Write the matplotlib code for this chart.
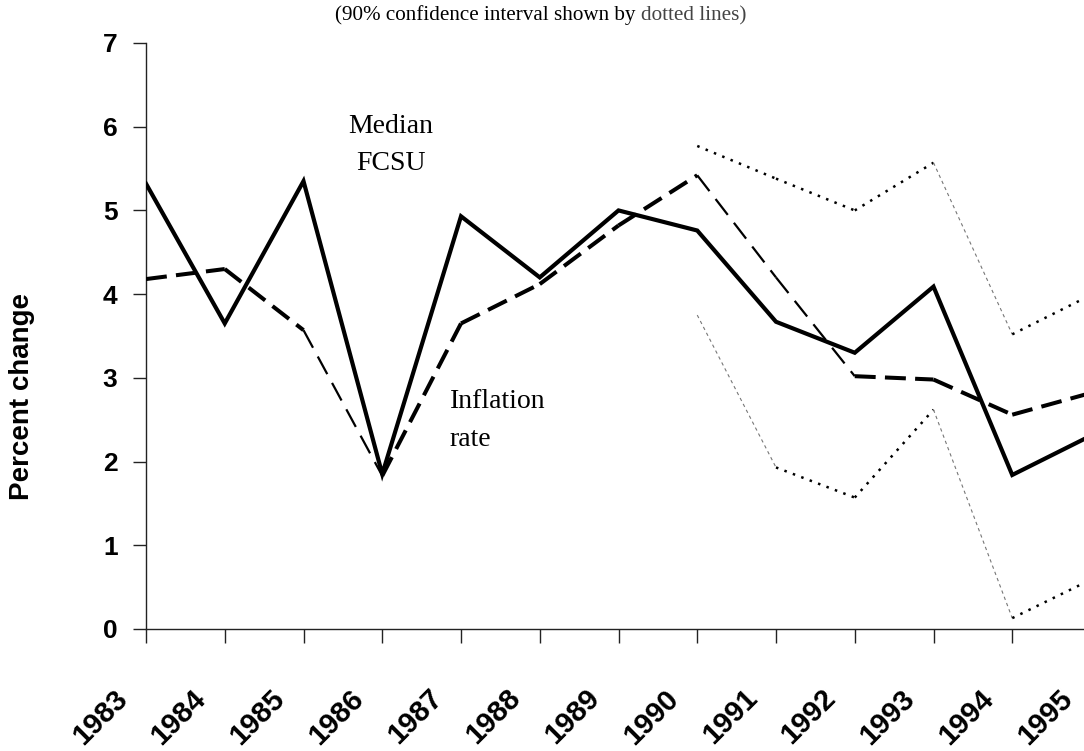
import matplotlib
matplotlib.use('Agg')
import matplotlib.pyplot as plt
import matplotlib.transforms as mtransforms

# annual percent changes, 1983-1995
years = ['1983', '1984', '1985', '1986', '1987', '1988', '1989',
         '1990', '1991', '1992', '1993', '1994', '1995']
median_fcsu = [5.32, 3.65, 5.35, 1.85, 4.93, 4.20, 5.00, 4.76, 3.67, 3.30, 4.09, 1.84, 2.31]
inflation = [4.18, 4.30, 3.57, 1.83, 3.65, 4.12, 4.82, 5.42, 4.20, 3.02, 2.98, 2.56, 2.82]
# 90% confidence band, forecast years only (1990 onward)
band_start = 7
band_upper = [5.77, 5.38, 5.00, 5.57, 3.52, 3.99]
band_lower = [3.75, 1.93, 1.57, 2.62, 0.13, 0.59]

fig = plt.figure(figsize=(10.84, 7.51), dpi=100)
ax = fig.add_axes([146 / 1084, 122 / 751, 945 / 1084, 586 / 751])

x = list(range(len(years)))

# solid line for the median
ax.plot(x, median_fcsu, color='black', lw=3, solid_joinstyle='miter', zorder=4)

# dashed inflation line, thinner on the steep drops
thin_dash = [2, 7, 8]
for i in range(len(x) - 1):
    if i in thin_dash:
        ax.plot(x[i:i + 2], inflation[i:i + 2], color='black', lw=1.6,
                dashes=(9, 4.5), zorder=3)
    else:
        ax.plot(x[i:i + 2], inflation[i:i + 2], color='black', lw=2.9,
                dashes=(5.2, 2.3), zorder=3)

# dotted confidence band; steep pieces come out as faint grey dashes
xb = x[band_start:]
for band, faint in [(band_upper, [3]), (band_lower, [0, 3])]:
    for i in range(len(xb) - 1):
        if i in faint:
            ax.plot(xb[i:i + 2], band[i:i + 2], color='#777777', lw=0.8,
                    dashes=(3, 3), zorder=2)
        else:
            ax.plot(xb[i:i + 2], band[i:i + 2], color='black', lw=1.8,
                    dashes=(1, 2.6), zorder=2)

ax.set_xlim(0, 12)
ax.set_ylim(0, 7)
ax.set_yticks(range(0, 8))
ax.set_xticks(x)
ax.set_xticklabels([])
for lab in ax.get_yticklabels():
    lab.set_fontsize(19)
    lab.set_fontweight('bold')
    lab.set_family('Liberation Sans')

# year labels sit half a step left of their ticks, slanted
shift = mtransforms.ScaledTranslation(-0.46, -0.88, fig.dpi_scale_trans)
trans = mtransforms.blended_transform_factory(ax.transData, ax.transAxes) + shift
for xi, yr in zip(x, years):
    ax.text(xi, 0, yr, transform=trans, rotation=45, ha='center', va='center',
            fontsize=21, fontweight='bold', family='Liberation Sans', clip_on=False)

ax.spines['top'].set_visible(False)
ax.spines['right'].set_visible(False)
for s in ['left', 'bottom']:
    ax.spines[s].set_linewidth(1.0)
    ax.spines[s].set_color('#222222')
ax.tick_params(axis='y', length=9.5, width=1.0, color='#222222', pad=11)
ax.tick_params(axis='x', length=10, width=1.0, color='#222222')

fig.text(22 / 1084, 1 - 397 / 751, 'Percent change', rotation=90,
         ha='center', va='center', fontsize=20, fontweight='bold',
         family='Liberation Sans')

# line labels
serif = dict(fontsize=20, family='Liberation Serif', va='baseline')
ax.text(3.11, 5.92, 'Median', ha='center', **serif)
ax.text(3.11, 5.48, 'FCSU', ha='center', **serif)
ax.text(3.86, 2.64, 'Inflation', ha='left', **serif)
ax.text(3.86, 2.19, 'rate', ha='left', **serif)

# subtitle with the grey "dotted lines" part
t1 = fig.text(0.5, 1 - 20 / 751, '(90% confidence interval shown by ', ha='left',
              va='baseline', fontsize=15.2, family='Liberation Serif')
t2 = fig.text(0.5, 1 - 20 / 751, 'dotted lines)', ha='left', va='baseline',
              fontsize=15.2, family='Liberation Serif', color='#444444')
r = fig.canvas.get_renderer()
w1 = t1.get_window_extent(r).width
w2 = t2.get_window_extent(r).width
x0 = 541 - (w1 + w2) / 2
t1.set_x(x0 / 1084)
t2.set_x((x0 + w1) / 1084)

fig.savefig('out.png', dpi=100)
